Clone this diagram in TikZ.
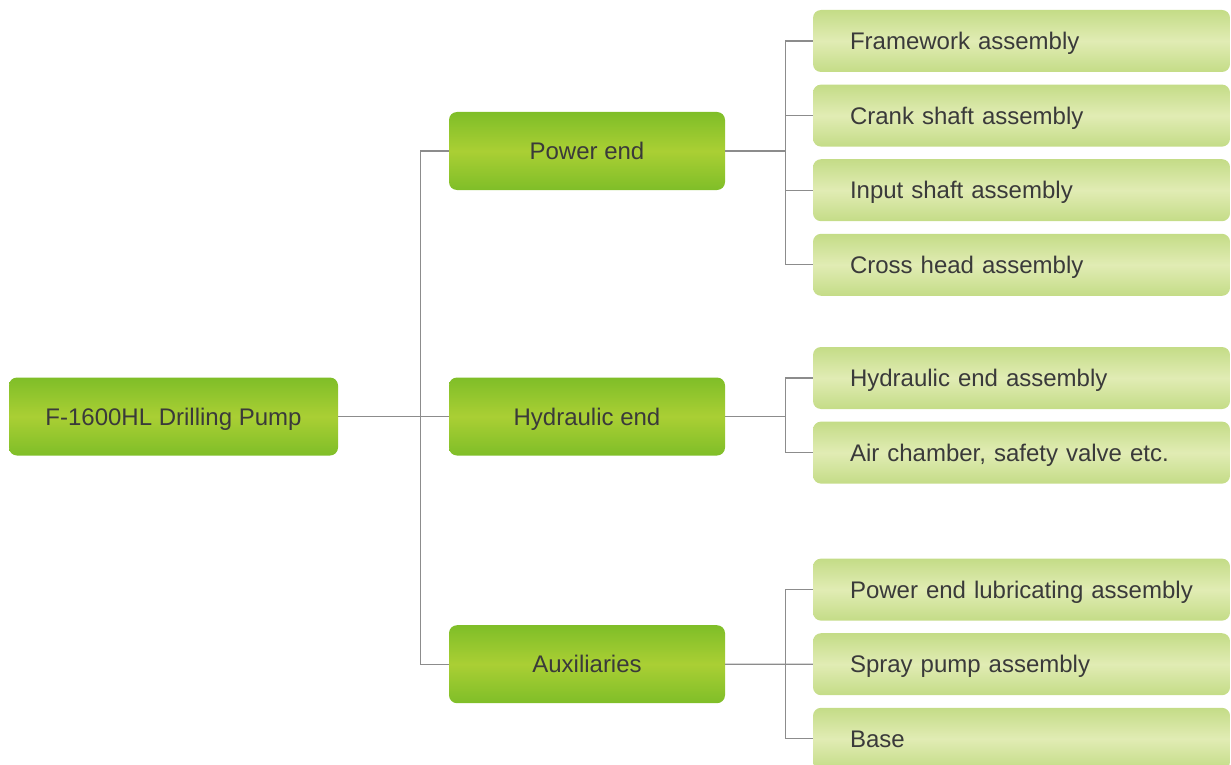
\documentclass[tikz,border=0pt]{standalone}
\usepackage{fontspec}
\setmainfont{Liberation Sans}
\usetikzlibrary{positioning}
\definecolor{boxedge}{HTML}{7FBE28}
\definecolor{boxmid}{HTML}{AACF34}
\definecolor{partedge}{HTML}{C4DC87}
\definecolor{partmid}{HTML}{E1ECB4}
\definecolor{textgray}{HTML}{3A3A3A}
\definecolor{linegray}{HTML}{8C8C8C}
\tikzstyle{group} = [rectangle, rounded corners=8pt, minimum width=276pt, minimum height=78pt, inner sep=0pt, text=textgray, top color=boxedge, bottom color=boxedge, middle color=boxmid, font=\fontsize{24}{28}\selectfont, text height=22pt, text depth=4.8pt]
\tikzstyle{part} = [rectangle, rounded corners=8pt, minimum width=417pt, minimum height=62pt, inner xsep=37pt, inner ysep=0pt, text width=343pt, align=left, text=textgray, top color=partedge, bottom color=partedge, middle color=partmid, font=\fontsize{24}{28}\selectfont, text height=22pt, text depth=4.8pt]
\tikzstyle{link} = [draw=linegray, line width=1.3pt]

\begin{document}
\begin{tikzpicture}[x=1pt, y=1pt, node distance=74.6pt]
    \useasboundingbox (0,0) rectangle (1231,-765);
    \clip (0,0) rectangle (1231,-765);

    % Pompa e gruppi principali
    \node (pump) [group, minimum width=329pt] at (173.5,-416.5) {F-1600HL Drilling Pump};
    \node (power) [group] at (587,-151) {Power end};
    \node (hydraulic) [group] at (587,-416.5) {Hydraulic end};
    \node (aux) [group] at (587,-664.2) {Auxiliaries};

    % Parti del power end
    \node (frame) [part] at (1021.5,-41) {Framework assembly};
    \node (crank) [part, below of=frame] {Crank shaft assembly};
    \node (input) [part, below of=crank] {Input shaft assembly};
    \node (cross) [part, below of=input] {Cross head assembly};

    % Parti del hydraulic end
    \node (hydAssy) [part] at (1021.5,-378) {Hydraulic end assembly};
    \node (airChamber) [part, below of=hydAssy] {Air chamber, safety valve etc.};

    % Parti degli ausiliari
    \node (lube) [part] at (1021.5,-589.6) {Power end lubricating assembly};
    \node (spray) [part, below of=lube] {Spray pump assembly};
    \node (base) [part, below of=spray] {Base};

    % Linee verso i gruppi
    \draw [link] (pump.east) -- (hydraulic.west);
    \draw [link] (power.west) -- ++(-28,0) |- (aux.west);

    % Linee verso le parti
    \draw [link] (power.east) -- ++(61,0);
    \draw [link] (frame.west) -- ++(-27,0) |- (cross.west);
    \draw [link] (crank.west) -- ++(-27,0);
    \draw [link] (input.west) -- ++(-27,0);

    \draw [link] (hydraulic.east) -- ++(61,0);
    \draw [link] (hydAssy.west) -- ++(-27,0) |- (airChamber.west);

    \draw [link] (aux.east) -- (spray.west);
    \draw [link] (lube.west) -- ++(-27,0) |- (base.west);

\end{tikzpicture}
\end{document}
